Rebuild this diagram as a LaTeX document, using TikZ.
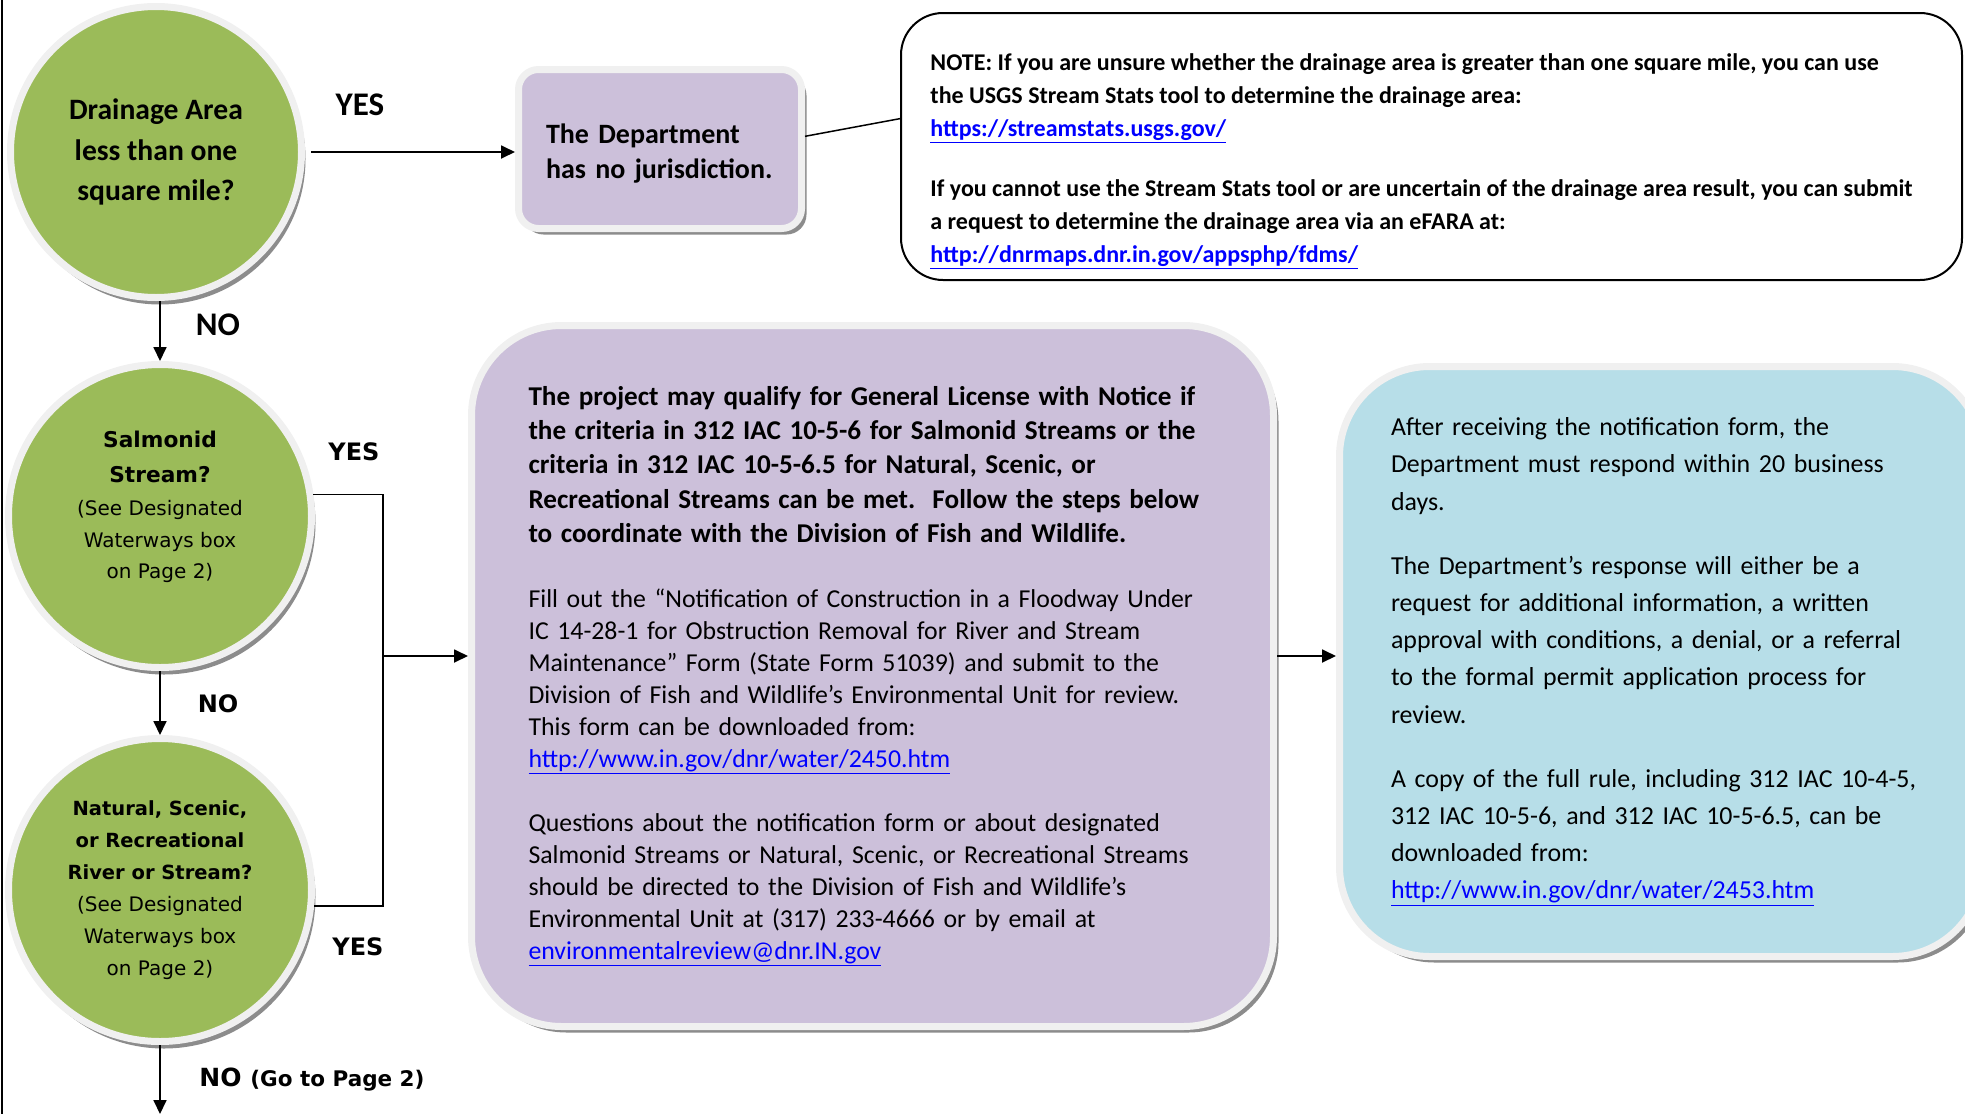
\documentclass[tikz,border=0pt]{standalone}
\usepackage{xcolor}
\usepackage{tikz}
\usepackage{fontspec}
\setmainfont{Carlito}
\newfontfamily\verdfont{DejaVu Sans}
\usetikzlibrary{arrows.meta}
\usetikzlibrary{shadows}

\definecolor{leafgreen}{HTML}{9BBB59}
\definecolor{lilac}{HTML}{CCC0DA}
\definecolor{paleblue}{HTML}{B7DEE8}
\definecolor{halo}{HTML}{F0F0F0}
\definecolor{linkblue}{HTML}{0000FF}
\newcommand{\weblink}[1]{\textcolor{linkblue}{\underline{#1}}}

\begin{document}
\begin{tikzpicture}[x=1pt,y=-1pt,line width=1.8pt]

	\tikzstyle{question} = [circle,fill=leafgreen,draw=halo,line width=7pt,inner sep=0pt,align=center,drop shadow={shadow xshift=4pt,shadow yshift=-7pt,fill=black!45,opacity=1}]
	\tikzstyle{infobox} = [rectangle,draw=halo,line width=7pt,inner sep=0pt,align=left,drop shadow={shadow xshift=5pt,shadow yshift=-6pt,fill=black!45,opacity=1}]
	\tikzstyle{flow} = [-{Triangle[length=14pt,width=13pt]}]
	\tikzstyle{answer} = [font=\bfseries\fontsize{33}{33}\selectfont]
	\tikzstyle{vanswer} = [font=\verdfont\bfseries\fontsize{24}{24}\selectfont]

	\useasboundingbox (0,0) rectangle (1965,1114);

	%\draw[help lines] (0,0) grid (1965,1114);
	\draw[line width=2pt] (2,0) -- (2,1114);

	\node[question,minimum size=291pt,font=\bfseries\fontsize{29.6}{40.5}\selectfont] (drain) at (156,152) {Drainage Area\\less than one\\square mile?};
	\node[answer] (yes1) at (360,105) {YES};
	\node[answer] (no1) at (218,325) {NO};

	\node[infobox,fill=lilac,rounded corners=20pt,minimum width=283pt,minimum height=159pt,text width=228pt,font=\bfseries\fontsize{28}{35}\selectfont] (nojur) at (660,149) {\rule{0pt}{29pt}The Department\\has no jurisdiction.};

	\node[draw=black,fill=white,line width=2pt,rounded corners=42pt,minimum width=1061pt,minimum height=267pt,inner sep=0pt,align=left,font=\bfseries\fontsize{24}{33}\selectfont] (note) at (1431.5,146.5) {\rule{0pt}{46pt}NOTE: If you are unsure whether the drainage area is greater than one square mile, you can use\\the USGS Stream Stats tool to determine the drainage area:\\\weblink{https://streamstats.usgs.gov/}\\[27pt]If you cannot use the Stream Stats tool or are uncertain of the drainage area result, you can submit\kern20pt\\a request to determine the drainage area via an eFARA at:\\\weblink{http://dnrmaps.dnr.in.gov/appsphp/fdms/}};

	\node[question,minimum size=303pt,font=\verdfont\fontsize{20}{31.5}\selectfont] (salm) at (160,516) {\bfseries\fontsize{21.7}{31.5}\selectfont Salmonid\\[3pt]\bfseries\fontsize{21.7}{31.5}\selectfont Stream?\\[2pt](See Designated\\Waterways box\\on Page 2)\rule[-22pt]{0pt}{0pt}};
	\node[vanswer] (yes2) at (354,452) {YES};
	\node[vanswer] (no2) at (218,704) {NO};

	\node[question,minimum size=303pt,font=\verdfont\fontsize{20}{32}\selectfont] (nat) at (160,890) {\bfseries\fontsize{19.5}{32}\selectfont Natural, Scenic,\\\bfseries\fontsize{19.5}{32}\selectfont or Recreational\\\bfseries\fontsize{19.5}{32}\selectfont River or Stream?\\(See Designated\\Waterways box\\on Page 2)};
	\node[vanswer] (yes3) at (358,947) {YES};
	\node[vanswer] (no3) at (312,1080) {\fontsize{25}{25}\selectfont NO {\fontsize{21.5}{21.5}\selectfont(Go to Page 2)}};

	\node[infobox,fill=lilac,rounded corners=90pt,minimum width=802pt,minimum height=701pt,text width=688pt,font=\fontsize{25.8}{32}\selectfont] (criteria) at (872.5,676) {%
		{\bfseries\fontsize{27.15}{34.25}\selectfont The project may qualify for General License with Notice if\\the criteria in 312 IAC 10-5-6 for Salmonid Streams or the\\criteria in 312 IAC 10-5-6.5 for Natural, Scenic, or\\Recreational Streams can be met.\ \ Follow the steps below\\to coordinate with the Division of Fish and Wildlife.\par}
		\vspace{33pt}
		Fill out the “Notification of Construction in a Floodway Under\\IC 14-28-1 for Obstruction Removal for River and Stream\\Maintenance” Form (State Form 51039) and submit to the\\Division of Fish and Wildlife’s Environmental Unit for review.\\This form can be downloaded from:\\\weblink{http://www.in.gov/dnr/water/2450.htm}\par
		\vspace{32pt}
		Questions about the notification form or about designated\\Salmonid Streams or Natural, Scenic, or Recreational Streams\\should be directed to the Division of Fish and Wildlife’s\\Environmental Unit at (317) 233-4666 or by email at\\\weblink{environmentalreview@dnr.IN.gov}\par};

	\node[infobox,fill=paleblue,rounded corners=90pt,minimum width=643pt,minimum height=590pt,text width=540pt,font=\fontsize{25.9}{37.2}\selectfont] (advice) at (1661,661.5) {After receiving the notification form, the\\Department must respond within 20 business\\days.\\[27pt]The Department’s response will either be a\\request for additional information, a written\\approval with conditions, a denial, or a referral\\to the formal permit application process for\\review.\\[27pt]A copy of the full rule, including 312 IAC 10-4-5,\\312 IAC 10-5-6, and 312 IAC 10-5-6.5, can be\\downloaded from:\\\weblink{http://www.in.gov/dnr/water/2453.htm}};

	\coordinate (merge) at (383,656);
	\coordinate (nextpage) at (160,1114);

	\draw[flow,shorten <=6pt] (drain.east) -- (drain.east -| nojur.west);
	\draw[line width=1.5pt] (nojur.5) -- (note.177.5);
	\draw[flow] (salm |- drain.south) -- (salm);
	\draw[flow] (salm) -- (nat);
	\draw[flow] (nat) -- (nextpage);
	\draw (salm.8) -| (merge);
	\draw (nat.-6) -| (merge);
	\draw[flow] (merge) -- (merge -| criteria.west);
	\draw[flow] (merge -| criteria.east) -- (merge -| advice.west);

\end{tikzpicture}
\end{document}
